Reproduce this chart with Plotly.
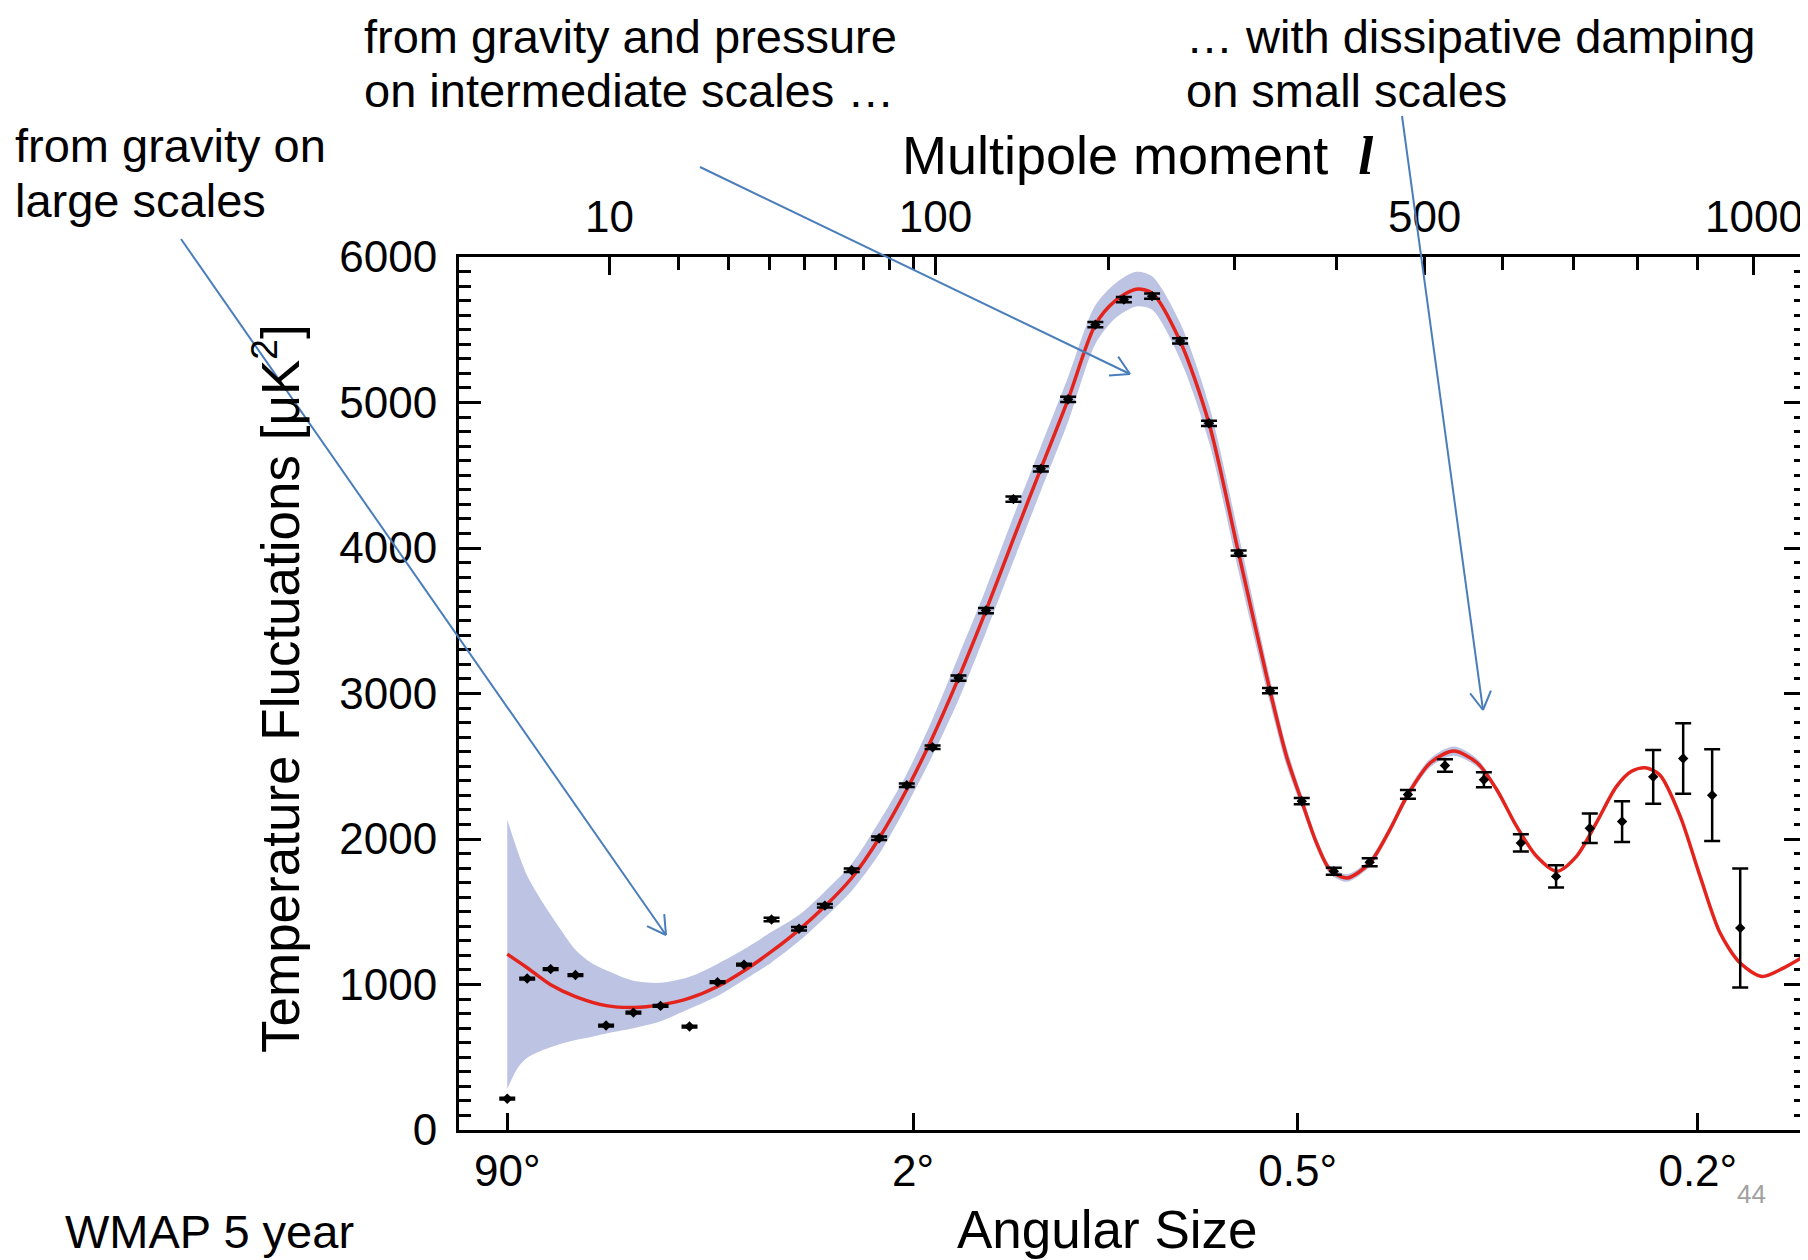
import numpy as np
import plotly.graph_objects as go

# WMAP 5-year binned TT spectrum: multipole l, l(l+1)C_l/2pi [uK^2], 1-sigma error
ell_data = [2, 3, 4.5, 6.5, 9.6, 13, 17, 22, 27.6, 33.6,
            40.6, 48.4, 56.5, 65.7, 76, 87.3, 98.7, 111, 125, 140,
            156, 173, 191, 211, 232, 254, 278, 304, 333, 364,
            397, 436, 480, 525, 575, 625, 675, 725, 775, 825,
            875, 925, 975]
dl_data = [215, 1041, 1106, 1065, 718, 807, 853, 711, 1016, 1136,
           1447, 1383, 1542, 1785, 2005, 2370, 2631, 3106, 3570, 4336,
           4544, 5022, 5535, 5707, 5731, 5423, 4857, 3964, 3019, 2260,
           1778, 1840, 2306, 2505, 2407, 1973, 1743, 2074, 2120, 2427,
           2553, 2301, 1388]
dl_err = [6, 6, 6, 6, 6, 6, 6, 6, 6, 6,
          12, 12, 12, 12, 12, 12, 12, 18, 18, 18,
          18, 18, 18, 18, 18, 18, 18, 18, 18, 21,
          24, 27, 30, 43, 52, 59, 77, 101, 140, 184,
          242, 315, 409]

# best-fit model (red line)
ell_model = [2, 2.9, 4.5, 6.5, 9.6, 13, 17, 22, 27.6, 33.6,
             40.6, 48.4, 56.5, 65.7, 76, 87.3, 98.7, 111, 125, 140,
             156, 173, 191, 205, 220, 232, 254, 278, 304, 333,
             349, 364, 379, 393, 411, 436, 459, 480, 507, 536,
             566, 592, 619, 647, 676, 705, 735, 766, 790, 812,
             836, 870, 904, 939, 975, 1015, 1055, 1100]
dl_model = [1209, 1124, 998, 917, 855, 842, 860, 906, 986, 1094,
            1227, 1376, 1537, 1732, 2005, 2340, 2700, 3106, 3570, 4063,
            4544, 5022, 5535, 5700, 5779, 5752, 5423, 4857, 3964, 3019,
            2567, 2260, 1973, 1789, 1732, 1835, 2065, 2306, 2524, 2604,
            2524, 2340, 2088, 1881, 1778, 1881, 2111, 2360, 2465, 2489,
            2440, 2156, 1743, 1354, 1147, 1055, 1113, 1204]

# cosmic variance band around the model
ell_band = [2, 2.5, 3, 4, 5, 6.5, 8, 10, 13, 17,
            22, 27.5, 33.5, 40.5, 48.5, 56.5, 65.7, 76, 87.3, 98.7,
            111, 125, 140, 156, 173, 191, 205, 220, 232, 254,
            278, 304, 333, 349, 364, 379, 393, 411, 436, 459,
            480, 507, 536, 566, 592, 619, 647]
band_lo = [282, 427, 496, 551, 585, 619, 640, 668, 699, 747,
           833, 920, 1030, 1150, 1300, 1459, 1644, 1897, 2231, 2575,
           2956, 3420, 3909, 4391, 4868, 5402, 5580, 5660, 5637, 5298,
           4731, 3837, 2934, 2503, 2215, 1937, 1760, 1706, 1809, 2038,
           2276, 2494, 2573, 2496, 2319, 2078, 1881]
band_hi = [2133, 1913, 1748, 1555, 1411, 1239, 1149, 1087, 1025, 1012,
           1053, 1140, 1240, 1360, 1480, 1640, 1830, 2118, 2449, 2825,
           3256, 3720, 4217, 4697, 5176, 5668, 5820, 5898, 5867, 5548,
           4983, 4091, 3104, 2631, 2305, 2009, 1818, 1758, 1861, 2092,
           2336, 2554, 2635, 2552, 2361, 2098, 1881]

top_major = [10, 100, 500, 1000]
top_minor = [20, 30, 40, 50, 60, 70, 80, 90, 200, 300, 400, 600, 700, 800, 900]
angles = [90, 2, 0.5, 0.2]          # angular size in degrees, l ~ 180/theta
y_ticks = [0, 1000, 2000, 3000, 4000, 5000, 6000]

# page body has an 8px margin, so the figure is 8px smaller and shifted
W, H = 1800, 1252
L, R, T, B = 451, 2, 249, 130
PW, PH = W - L - R, H - T - B
X0, Y0 = 459, 1130                  # screen position of the plot's lower-left corner
XR = [0.757, 16.456]               # l^0.4 at the frame edges

FONT = "Liberation Sans, Arial, Helvetica, sans-serif"
BLUE = "#4a7ebb"


def sx(l):
    # the multipole axis is stretched as l^0.4
    return np.power(np.asarray(l, dtype=float), 0.4)


def px(x):
    return (x - X0) / PW


def py(y):
    return (Y0 - y) / PH


fig = go.Figure()
fig.add_trace(go.Scatter(x=sx(ell_band), y=band_lo, mode="lines",
                         line=dict(width=0, shape="spline", smoothing=0.8),
                         hoverinfo="skip"))
fig.add_trace(go.Scatter(x=sx(ell_band), y=band_hi, mode="lines",
                         line=dict(width=0, shape="spline", smoothing=0.8),
                         fill="tonexty", fillcolor="#bcc3e3", hoverinfo="skip"))
fig.add_trace(go.Scatter(x=sx(ell_model), y=dl_model, mode="lines",
                         line=dict(color="#e3231c", width=3.5, shape="spline", smoothing=0.8)))
fig.add_trace(go.Scatter(x=sx(ell_data), y=dl_data, mode="markers",
                         marker=dict(symbol="diamond", size=8, color="black"),
                         error_y=dict(type="data", array=dl_err, width=8,
                                      thickness=2.5, color="black")))
# empty traces so the top (multipole) and right axes get their own subplots
fig.add_trace(go.Scatter(x=[], y=[], xaxis="x2", yaxis="y", hoverinfo="skip"))
fig.add_trace(go.Scatter(x=[], y=[], xaxis="x", yaxis="y2", hoverinfo="skip"))

tickfont = dict(family=FONT, size=44, color="black")
common = dict(showgrid=False, zeroline=False, showline=True, linecolor="black",
              linewidth=3, ticks="inside", tickwidth=2.5, tickcolor="black",
              tickfont=tickfont)
yminor = dict(dtick=100, ticks="inside", ticklen=12, tickwidth=2.5, tickcolor="black")

fig.update_layout(
    width=W, height=H,
    margin=dict(l=L, r=R, t=T, b=B),
    paper_bgcolor="white", plot_bgcolor="white",
    showlegend=False,
    font=dict(family=FONT, color="black"),
    xaxis=dict(range=XR, tickmode="array",
               tickvals=sx([180 / a for a in angles]),
               ticktext=[f"{a:g}°" for a in angles],
               ticklen=17, ticklabelstandoff=0, **common),
    xaxis2=dict(range=XR, overlaying="x", side="top", anchor="y",
                tickmode="array", tickvals=sx(top_major),
                ticktext=[str(v) for v in top_major],
                ticklen=18, ticklabelstandoff=4,
                minor=dict(tickmode="array", tickvals=sx(top_minor), ticks="inside",
                           ticklen=13, tickwidth=2.5, tickcolor="black"),
                **common),
    yaxis=dict(range=[0, 6000], tickmode="array", tickvals=y_ticks,
               ticklen=22, ticklabelstandoff=10, minor=yminor, **common),
    yaxis2=dict(range=[0, 6000], overlaying="y", side="right", anchor="x",
                tickmode="array", tickvals=y_ticks, showticklabels=False,
                ticklen=22, minor=yminor, **common),
)

# text labels (screen pixel positions converted to paper coords)
texts = [
    ("from gravity and pressure", 362, 36, 47, "left"),
    ("on intermediate scales …", 362, 90, 47, "left"),
    ("… with dissipative damping", 1184, 36, 47, "left"),
    ("on small scales", 1184, 90, 47, "left"),
    ("from gravity on", 13, 145, 47, "left"),
    ("large scales", 13, 200, 47, "left"),
    ("Multipole moment  <span style=\"font-family:'Liberation Serif', serif\"><b><i>l</i></b></span>",
     900, 156, 54, "left"),
    ("Angular Size", 1107, 1229, 53, "center"),
    ("WMAP 5 year", 63, 1231, 47, "left"),
]
for txt, x, y, size, anchor in texts:
    fig.add_annotation(text=txt, x=px(x), y=py(y), xref="paper", yref="paper",
                       xanchor=anchor, yanchor="middle", showarrow=False,
                       font=dict(family=FONT, size=size, color="black"))

fig.add_annotation(text="Temperature Fluctuations [μK<sup>2</sup>]",
                   x=px(276), y=py(689), xref="paper", yref="paper",
                   xanchor="center", yanchor="middle", textangle=-90,
                   showarrow=False, font=dict(family=FONT, size=53, color="black"))
fig.add_annotation(text="44", x=px(1751), y=py(1194), xref="paper", yref="paper",
                   xanchor="center", yanchor="middle", showarrow=False,
                   font=dict(family=FONT, size=26, color="#a0a0a0"))

# blue explanatory arrows with open heads
arrows = [((181, 239), (666, 935)),
          ((700, 167), (1130, 374)),
          ((1402, 116), (1483, 710))]
shapes = []
for (x0, y0), (x1, y1) in arrows:
    line = dict(color=BLUE, width=2)
    shapes.append(dict(type="line", xref="paper", yref="paper",
                       x0=px(x0), y0=py(y0), x1=px(x1), y1=py(y1), line=line))
    back = np.arctan2(y0 - y1, x0 - x1)
    for d in (-np.pi / 6, np.pi / 6):
        hx = x1 + 21 * np.cos(back + d)
        hy = y1 + 21 * np.sin(back + d)
        shapes.append(dict(type="line", xref="paper", yref="paper",
                           x0=px(x1), y0=py(y1), x1=px(hx), y1=py(hy), line=line))
fig.update_layout(shapes=shapes)

fig.write_html("out.html", config={"displayModeBar": False})
